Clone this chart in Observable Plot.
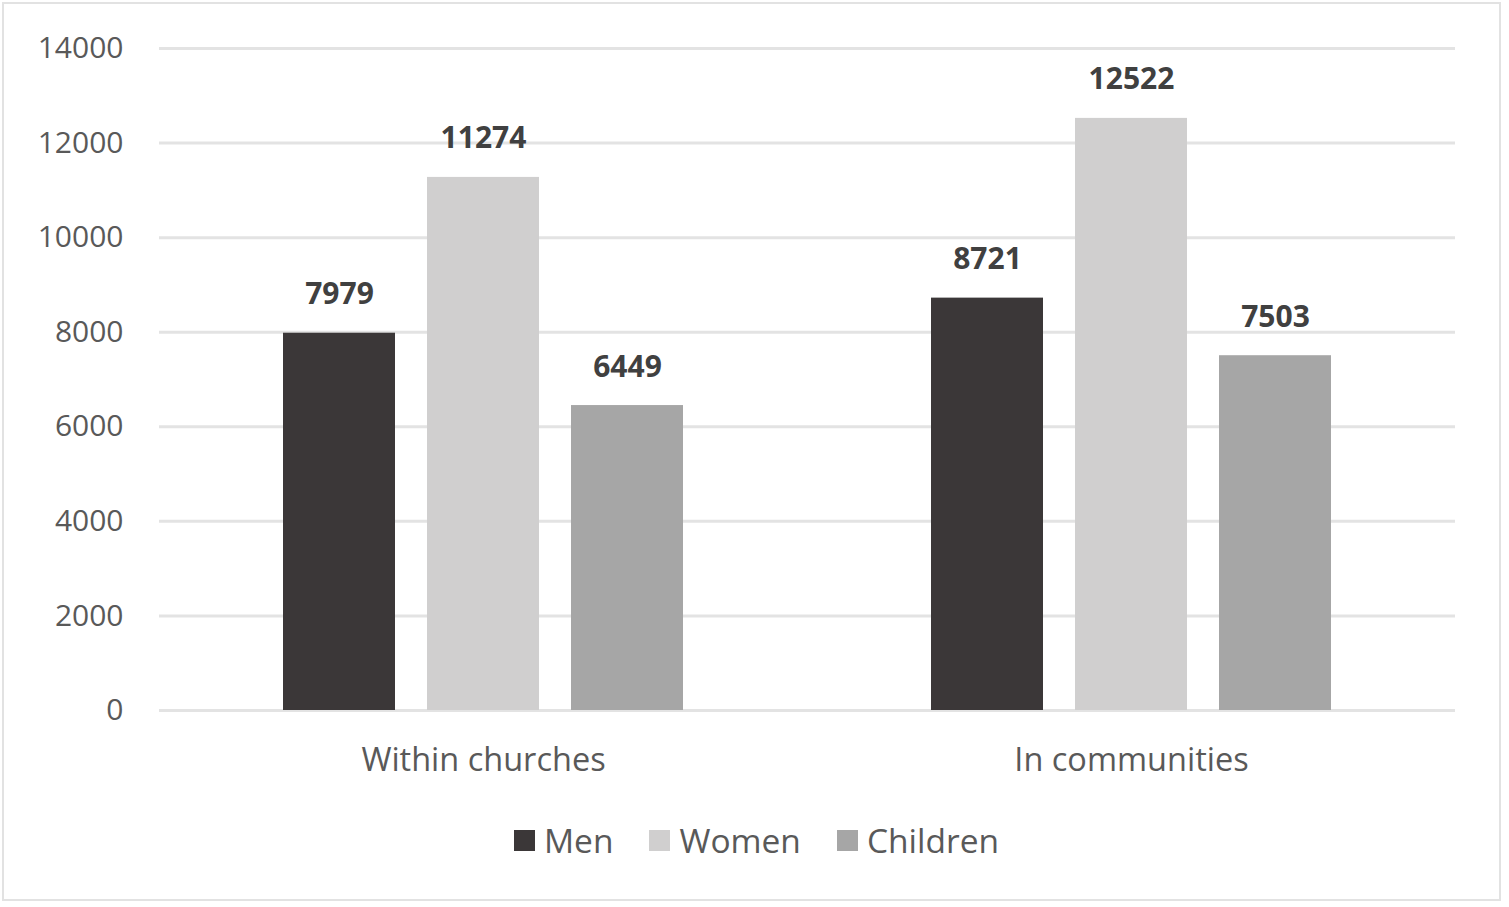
<!DOCTYPE html>
<html>
<head>
<meta charset="utf-8">
<script src="https://cdn.jsdelivr.net/npm/d3@7"></script>
<script src="https://cdn.jsdelivr.net/npm/@observablehq/plot@0.6"></script>
<style>
  html, body { margin: 0; padding: 0; background: #fff; overflow: hidden; }
  body { width: 1509px; height: 907px; position: relative; font-family: "Open Sans", sans-serif; }
  #frame { position: absolute; left: 2px; top: 2px; width: 1499px; height: 899px; border: 2px solid #e2e2e2; box-sizing: border-box; pointer-events: none; }
  #chart { position: absolute; left: 0; top: 0; }
  #legend { position: absolute; left: 0; top: 790px; width: 1509px; height: 100px; display: flex; justify-content: center; align-items: center; gap: 36px; font-size: 33.5px; color: #595959; box-sizing: border-box; padding-left: 4px; }
  .item { display: flex; align-items: center; gap: 9px; }
  .sw { width: 21px; height: 21px; display: inline-block; }
</style>
</head>
<body>
<div id="chart"></div>
<div id="legend"></div>
<div id="frame"></div>
<script>
const groups = ["Within churches", "In communities"];
const series = ["Men", "Women", "Children"];
const colors = ["#3b3738", "#d0cfcf", "#a6a6a6"];
const menValues = [7979, 8721];
const womenValues = [11274, 12522];
const childrenValues = [6449, 7503];
const yTicks = [0, 2000, 4000, 6000, 8000, 10000, 12000, 14000];

const valuesBySeries = [menValues, womenValues, childrenValues];
const data = [];
groups.forEach((g, gi) => {
  series.forEach((s, si) => {
    data.push({group: g, series: s, value: valuesBySeries[si][gi]});
  });
});

const plot = Plot.plot({
  width: 1509,
  height: 790,
  marginLeft: 159,
  marginRight: 54,
  marginTop: 48,
  marginBottom: 80,
  style: {fontFamily: "'Open Sans', sans-serif", background: "transparent"},
  fx: {domain: groups, padding: 0, label: null},
  x: {domain: series, paddingInner: 0.22, paddingOuter: 0.845, axis: null},
  y: {domain: [0, 14000], ticks: yTicks, label: null},
  color: {domain: series, range: colors},
  marks: [
    Plot.gridY(yTicks, {stroke: "#e3e3e3", strokeWidth: 3, strokeOpacity: 1}),
    Plot.axisY({ticks: yTicks, tickSize: 0, tickPadding: 36, tickFormat: d => String(d), fontSize: 30, fill: "#595959", label: null}),
    Plot.axisFx({anchor: "bottom", tickSize: 0, tickPadding: 37, fontSize: 32.5, fill: "#595959", label: null}),
    Plot.barY(data, {fx: "group", x: "series", y: "value", fill: "series"}),
    Plot.text(data, {fx: "group", x: "series", y: "value", text: d => String(d.value), lineAnchor: "bottom", dy: -29, fontSize: 30, fontWeight: "bold", fill: "#404040"})
  ]
});
document.getElementById("chart").appendChild(plot);

const legend = document.getElementById("legend");
series.forEach((s, i) => {
  const item = document.createElement("div");
  item.className = "item";
  const sw = document.createElement("span");
  sw.className = "sw";
  sw.style.background = colors[i];
  const lab = document.createElement("span");
  lab.textContent = s;
  item.appendChild(sw);
  item.appendChild(lab);
  legend.appendChild(item);
});
</script>
</body>
</html>
